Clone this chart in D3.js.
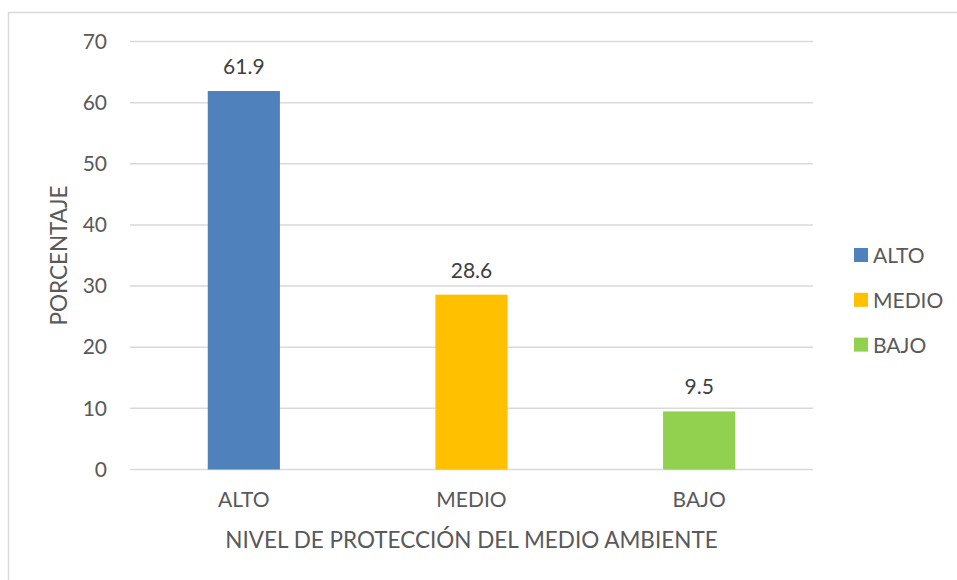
<!DOCTYPE html>
<html>
<head>
<meta charset="utf-8">
<script src="https://cdn.jsdelivr.net/npm/d3@7"></script>
<style>
  body { margin: 0; background: #fff; }
  text { font-family: Lato, "Open Sans", sans-serif; }
</style>
</head>
<body>
<div id="chart"></div>
<script>
let categories = ["ALTO", "MEDIO", "BAJO"];
let values = [61.9, 28.6, 9.5];
let colors = ["#4f81bd", "#ffc000", "#92d050"];
let yTicks = [0, 10, 20, 30, 40, 50, 60, 70];

let dim = {
    width: 957, height: 580,
    plot: { left: 130, right: 813, top: 41.5, bottom: 469.5 }
};

let svg = d3.select("#chart").append("svg")
        .attr("width", dim.width)
        .attr("height", dim.height);

// outer chart border (cropped on right/bottom in the reference)
svg.append("rect")
        .attr("x", 8.5).attr("y", 12.5)
        .attr("width", 1000).attr("height", 1000)
        .attr("fill", "none")
        .attr("stroke", "#d9d9d9")
        .attr("stroke-width", 1.5);

let x = d3.scaleBand()
        .domain(categories)
        .range([dim.plot.left, dim.plot.right])
        .paddingInner(0.683)
        .paddingOuter(0.3415);

let y = d3.scaleLinear()
        .domain([0, 70])
        .range([dim.plot.bottom, dim.plot.top]);

// gridlines
svg.append("g")
        .attr("class", "grid")
    .selectAll("line")
    .data(yTicks)
    .enter().append("line")
        .attr("x1", dim.plot.left)
        .attr("x2", dim.plot.right)
        .attr("y1", d => y(d))
        .attr("y2", d => y(d))
        .attr("stroke", "#d9d9d9")
        .attr("stroke-width", 1.5);

// y axis labels
let yAxis = d3.axisLeft(y).tickValues(yTicks).tickSize(0).tickPadding(0);
svg.append("g")
        .attr("transform", "translate(107,0)")
        .call(yAxis)
        .call(g => g.select(".domain").remove())
        .call(g => g.selectAll("text")
            .attr("fill", "#595959")
            .style("font-size", "21px")
            .style("font-family", "Lato, 'Open Sans', sans-serif"));

// bars
svg.append("g")
    .selectAll("rect")
    .data(values)
    .enter().append("rect")
        .attr("x", (d, i) => x(categories[i]))
        .attr("width", x.bandwidth())
        .attr("y", d => y(d))
        .attr("height", d => y(0) - y(d))
        .attr("fill", (d, i) => colors[i]);

// data labels
svg.append("g")
    .selectAll("text")
    .data(values)
    .enter().append("text")
        .attr("x", (d, i) => x(categories[i]) + x.bandwidth() / 2)
        .attr("y", d => y(d) - 17)
        .attr("text-anchor", "middle")
        .attr("fill", "#404040")
        .style("font-size", "21px")
        .text(d => d.toFixed(1));

// x axis labels
let xAxis = d3.axisBottom(x).tickSize(0).tickPadding(0);
svg.append("g")
        .attr("transform", "translate(0,492)")
        .call(xAxis)
        .call(g => g.select(".domain").remove())
        .call(g => g.selectAll("text")
            .attr("fill", "#595959")
            .style("font-size", "21px")
            .style("font-family", "Lato, 'Open Sans', sans-serif"));

// axis titles
svg.append("text")
        .attr("x", (dim.plot.left + dim.plot.right) / 2)
        .attr("y", 548)
        .attr("text-anchor", "middle")
        .attr("fill", "#595959")
        .style("font-size", "22.5px")
        .text("NIVEL DE PROTECCIÓN DEL MEDIO AMBIENTE");

svg.append("text")
        .attr("transform", "translate(67," + ((dim.plot.top + dim.plot.bottom) / 2) + ") rotate(-90)")
        .attr("text-anchor", "middle")
        .attr("fill", "#595959")
        .style("font-size", "22.5px")
        .text("PORCENTAJE");

// legend
let legend = svg.append("g")
        .attr("transform", "translate(854,248)");

let items = legend.selectAll("g")
    .data(categories)
    .enter().append("g")
        .attr("transform", (d, i) => "translate(0," + (i * 44.8) + ")");

items.append("rect")
        .attr("width", 14)
        .attr("height", 14)
        .attr("fill", (d, i) => colors[i]);

items.append("text")
        .attr("x", 19)
        .attr("y", 15)
        .attr("fill", "#595959")
        .style("font-size", "21px")
        .text(d => d);
</script>
</body>
</html>
